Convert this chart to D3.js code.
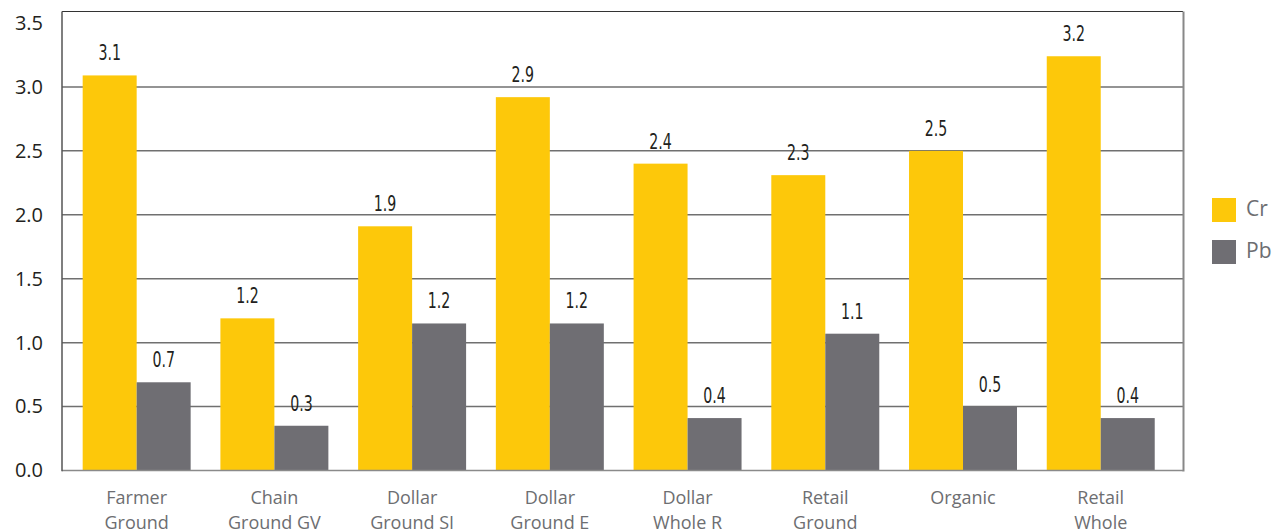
<!DOCTYPE html>
<html>
<head>
<meta charset="utf-8">
<script src="https://cdn.jsdelivr.net/npm/d3@7"></script>
<style>
  body { margin: 0; background: #fff; }
  svg { display: block; }
</style>
</head>
<body>
<svg class="chart" width="1279" height="531"></svg>
<script>
// values
let categories = ["Farmer Ground", "Chain Ground GV", "Dollar Ground SI", "Dollar Ground E",
                  "Dollar Whole R", "Retail Ground", "Organic", "Retail Whole"];
let categoryLines = [["Farmer", "Ground"], ["Chain", "Ground GV"], ["Dollar", "Ground SI"],
                     ["Dollar", "Ground E"], ["Dollar", "Whole R"], ["Retail", "Ground"],
                     ["Organic"], ["Retail", "Whole"]];
let series = ["Cr", "Pb"];
let crValues = [3.09, 1.19, 1.91, 2.92, 2.40, 2.31, 2.50, 3.24];
let pbValues = [0.69, 0.35, 1.15, 1.15, 0.41, 1.07, 0.50, 0.41];
let crLabels = ["3.1", "1.2", "1.9", "2.9", "2.4", "2.3", "2.5", "3.2"];
let pbLabels = ["0.7", "0.3", "1.2", "1.2", "0.4", "1.1", "0.5", "0.4"];
let yTicks = [0, 0.5, 1.0, 1.5, 2.0, 2.5, 3.0, 3.5];
let gridValues = [0.5, 1.0, 1.5, 2.0, 2.5, 3.0];

let colors = { Cr: "#fdc80a", Pb: "#6f6e73" };

var svg = d3.select(".chart");

let plot = { left: 62, right: 1183, top: 11.5, bottom: 470.5 };

var yScale = d3.scaleLinear()
               .domain([0, 3.59])
               .range([plot.bottom, plot.top]);

var xScale = d3.scaleBand()
               .domain(categories)
               .range([67.8, 1169.6])
               .paddingInner(0.216)
               .paddingOuter(0.108);

var xInner = d3.scaleBand()
               .domain(series)
               .range([0, xScale.bandwidth()]);

// gridlines
svg.append("g")
   .selectAll("line")
   .data(gridValues)
   .join("line")
   .attr("x1", plot.left)
   .attr("x2", plot.right)
   .attr("y1", d => yScale(d))
   .attr("y2", d => yScale(d))
   .attr("stroke", "#707070")
   .attr("stroke-width", 1.5);

// frame
svg.append("line")
   .attr("x1", plot.left).attr("x2", plot.right)
   .attr("y1", plot.top).attr("y2", plot.top)
   .attr("stroke", "#333").attr("stroke-width", 1);
svg.append("line")
   .attr("x1", plot.right + 0.5).attr("x2", plot.right + 0.5)
   .attr("y1", plot.top).attr("y2", plot.bottom + 1)
   .attr("stroke", "#888").attr("stroke-width", 2);

// bars
let rows = categories.map((c, i) => ({
	cat: c,
	items: [
		{ key: "Cr", value: crValues[i], label: crLabels[i] },
		{ key: "Pb", value: pbValues[i], label: pbLabels[i] }
	]
}));

let groups = svg.append("g")
   .selectAll("g")
   .data(rows)
   .join("g")
   .attr("transform", d => `translate(${xScale(d.cat)},0)`);

groups.selectAll("rect")
   .data(d => d.items)
   .join("rect")
   .attr("x", d => xInner(d.key))
   .attr("y", d => yScale(d.value))
   .attr("width", xInner.bandwidth())
   .attr("height", d => yScale(0) - yScale(d.value))
   .attr("fill", d => colors[d.key]);

groups.selectAll("text.val")
   .data(d => d.items)
   .join("text")
   .attr("class", "val")
   .attr("transform", d => `translate(${xInner(d.key) + xInner.bandwidth() / 2},${yScale(d.value) - 15}) scale(0.75,1)`)
   .attr("text-anchor", "middle")
   .attr("font-family", "'Liberation Sans Narrow', 'DejaVu Sans Condensed', sans-serif")
   .attr("font-size", 21)
   .attr("fill", "#231f20")
   .text(d => d.label);

// axes lines
svg.append("line")
   .attr("x1", plot.left).attr("x2", plot.right)
   .attr("y1", plot.bottom).attr("y2", plot.bottom)
   .attr("stroke", "#8a8a8a").attr("stroke-width", 1.5);
svg.append("line")
   .attr("x1", plot.left).attr("x2", plot.left)
   .attr("y1", plot.top).attr("y2", plot.bottom + 0.75)
   .attr("stroke", "#555").attr("stroke-width", 1.5);

// y axis labels
let yAxis = svg.append("g")
   .attr("transform", `translate(${plot.left},0)`)
   .call(d3.axisLeft(yScale).tickValues(yTicks).tickSize(0).tickPadding(19).tickFormat(d3.format(".1f")));
yAxis.select(".domain").remove();
yAxis.selectAll("text")
   .attr("font-family", "'Open Sans', sans-serif")
   .attr("font-size", 20)
   .attr("fill", "#231f20");

// category labels
let catLabels = svg.append("g")
   .selectAll("text")
   .data(categories)
   .join("text")
   .attr("x", d => xScale(d) + xScale.bandwidth() / 2)
   .attr("y", 504)
   .attr("text-anchor", "middle")
   .attr("font-family", "'Open Sans', sans-serif")
   .attr("font-size", 18)
   .attr("fill", "#6d6e71");

catLabels.each(function(d, i) {
	let t = d3.select(this);
	categoryLines[i].forEach((line, j) => {
		t.append("tspan")
		 .attr("x", xScale(d) + xScale.bandwidth() / 2)
		 .attr("dy", j == 0 ? 0 : 25)
		 .text(line);
	});
});

// legend
let legend = svg.append("g")
   .selectAll("g")
   .data(series)
   .join("g")
   .attr("transform", (d, i) => `translate(1212,${198 + i * 42})`);
legend.append("rect")
   .attr("width", 24)
   .attr("height", 24)
   .attr("fill", d => colors[d]);
legend.append("text")
   .attr("x", 34)
   .attr("y", 18)
   .attr("font-family", "'Open Sans', sans-serif")
   .attr("font-size", 21)
   .attr("fill", "#6d6e71")
   .text(d => d);
</script>
</body>
</html>
